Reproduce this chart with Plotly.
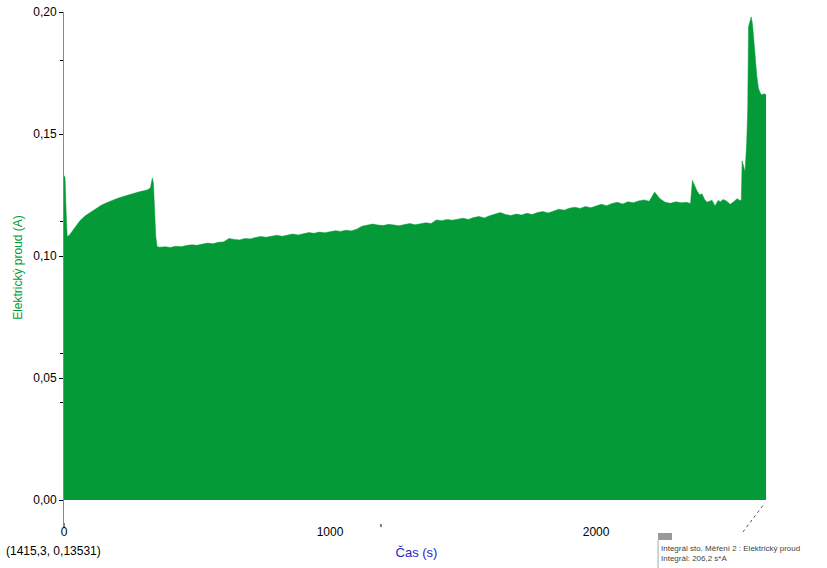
import plotly.graph_objects as go

# Time (s) and current (A)
time_s = [0, 4, 8, 12, 20, 30, 45, 60, 80, 100, 120, 140, 160, 180, 200, 220, 240, 260, 280, 300,
          315, 325, 332, 336, 340, 345, 350,
          360, 380, 400, 420, 440, 460, 480, 500, 520, 540, 560, 580, 600, 620, 640, 660, 680, 700,
          720, 740, 760, 780, 800, 820, 840, 860, 880, 900, 920, 940, 960, 980, 1000, 1020, 1040,
          1060, 1080, 1100, 1120, 1140, 1160, 1180, 1200, 1220, 1240, 1260, 1280, 1300, 1320, 1340,
          1360, 1380, 1400, 1420, 1440, 1460, 1480, 1500, 1520, 1540, 1560, 1580, 1600, 1620, 1640,
          1660, 1680, 1700, 1720, 1740, 1760, 1780, 1800, 1820, 1840, 1860, 1880, 1900, 1920, 1940,
          1960, 1980, 2000, 2020, 2040, 2060, 2080, 2100, 2120, 2140, 2160, 2180, 2200, 2220, 2240,
          2260, 2280, 2300, 2320, 2340,
          2355, 2362, 2370, 2380, 2390, 2398, 2408, 2417, 2427, 2436, 2447, 2459, 2468, 2477, 2490,
          2504, 2517, 2530, 2540, 2546, 2549, 2555, 2560, 2566, 2570, 2573, 2578, 2583, 2588, 2593,
          2598, 2604, 2610, 2616, 2623, 2632, 2639]
current_a = [0.133, 0.132, 0.118, 0.108, 0.1085, 0.110, 0.112, 0.1145, 0.1165, 0.118, 0.1195, 0.1208,
             0.1218, 0.1228, 0.1236, 0.1243, 0.1250, 0.1256, 0.1262, 0.1267,
             0.1272, 0.1280, 0.1320, 0.1300, 0.1180, 0.1080, 0.1038,
             0.1036, 0.1038, 0.1035, 0.1040, 0.1038, 0.1043, 0.1046, 0.1044, 0.1050, 0.1053, 0.1050,
             0.1056, 0.1058, 0.1072, 0.1068, 0.1066, 0.1072, 0.1070,
             0.1076, 0.1080, 0.1077, 0.1082, 0.1085, 0.1081, 0.1087, 0.1090, 0.1086, 0.1092, 0.1096,
             0.1093, 0.1098, 0.1095, 0.1100, 0.1104, 0.1101,
             0.1106, 0.1103, 0.1110, 0.1122, 0.1128, 0.1131, 0.1127, 0.1125, 0.1130, 0.1127, 0.1124,
             0.1129, 0.1133, 0.1128, 0.1131,
             0.1136, 0.1133, 0.1148, 0.1145, 0.1150, 0.1147, 0.1152, 0.1155, 0.1150, 0.1158, 0.1162,
             0.1156, 0.1165, 0.1172, 0.1178,
             0.1170, 0.1166, 0.1172, 0.1168, 0.1175, 0.1170, 0.1178, 0.1182, 0.1176, 0.1185, 0.1192,
             0.1188, 0.1196, 0.1200, 0.1195,
             0.1203, 0.1198, 0.1205, 0.1212, 0.1206, 0.1215, 0.1220, 0.1213, 0.1222, 0.1218, 0.1226,
             0.1230, 0.1224, 0.1262, 0.1235,
             0.1220, 0.1216, 0.1222, 0.1218, 0.1220,
             0.1215, 0.1310, 0.1290, 0.1265, 0.1250, 0.1255, 0.1232, 0.1220, 0.1225, 0.1228, 0.1205,
             0.1228, 0.1222, 0.1232, 0.1225,
             0.1212, 0.1222, 0.1235, 0.1228, 0.1230, 0.1390, 0.1370, 0.1345, 0.1460, 0.1600, 0.1940,
             0.1960, 0.1980, 0.1950, 0.1880,
             0.1800, 0.1740, 0.1690, 0.1670, 0.1660, 0.1665, 0.1660]

y_ticks = [0.0, 0.05, 0.10, 0.15, 0.20]
x_ticks = [0, 1000, 2000]

GREEN = "#039A37"
FONT = "Liberation Sans, Arial, sans-serif"

fig = go.Figure()
fig.add_trace(go.Scatter(
    x=time_s, y=current_a, mode="lines", line=dict(width=0.5, color=GREEN, shape="linear"),
    fill="tozeroy", fillcolor=GREEN, hoverinfo="skip", showlegend=False))

fig.update_layout(
    width=827, height=568,
    margin=dict(l=64, r=58, t=12, b=45, autoexpand=False),
    paper_bgcolor="white", plot_bgcolor="white",
    separators=", ",
    font=dict(family=FONT, size=12, color="black"),
    xaxis=dict(range=[0, 2650], tickvals=x_ticks, showgrid=False, zeroline=False, automargin=False,
               showline=False, ticks="", ticklen=0, tickfont=dict(size=12),
               title=dict(text="Čas (s)", font=dict(color="#2626C8", size=13), standoff=9)),
    yaxis=dict(range=[-0.0094, 0.20], tickvals=y_ticks, tickformat=".2f", showgrid=False,
               automargin=False,
               zeroline=False, showline=True, linecolor="#888888", linewidth=1,
               ticks="outside", ticklen=4, tickcolor="black", tickfont=dict(size=12),
               minor=dict(tickvals=[0.18, 0.114, 0.06, 0.04], ticks="outside", ticklen=3,
                          tickcolor="black"),
               title=dict(text="Elektrický proud (A)", font=dict(color=GREEN, size=12), standoff=8)),
)

# small tick at x=0 below the axis
fig.add_shape(type="line", xref="paper", yref="paper", x0=0, x1=0, y0=0, y1=-0.008,
              line=dict(color="black", width=1))
# small cursor mark
fig.add_shape(type="line", xref="paper", yref="paper", x0=0.4496, x1=0.4496, y0=-0.002, y1=-0.008,
              line=dict(color="black", width=1))
# dotted diagonal near the end
fig.add_shape(type="line", xref="paper", yref="paper", x0=0.963, y0=-0.0176, x1=0.994, y1=0.039,
              line=dict(color="#555555", width=1, dash="dot"))
# legend icon
fig.add_shape(type="rect", xref="paper", yref="paper", x0=0.8426, x1=0.8624, y0=-0.0333, y1=-0.0196,
              fillcolor="#999999", line=dict(width=0))
fig.add_shape(type="line", xref="paper", yref="paper", x0=0.8426, x1=0.8426, y0=-0.0333, y1=-0.088,
              line=dict(color="#aaaaaa", width=1))

fig.add_annotation(text="(1415,3, 0,13531)", xref="paper", yref="paper", x=-0.085, y=-0.055,
                   xanchor="left", yanchor="middle", showarrow=False, font=dict(size=12, color="black"))
fig.add_annotation(text="Integrál sto. Měření 2 : Elektrický proud<br>Integrál: 206,2 s*A",
                   xref="paper", yref="paper", x=0.846, y=-0.040, xanchor="left", yanchor="top",
                   align="left", showarrow=False, borderpad=0,
                   font=dict(size=8, color="#444444"))

fig.write_html("out.html", config={"displayModeBar": False},
               post_script="document.body.style.margin='0';document.body.style.padding='0';")
